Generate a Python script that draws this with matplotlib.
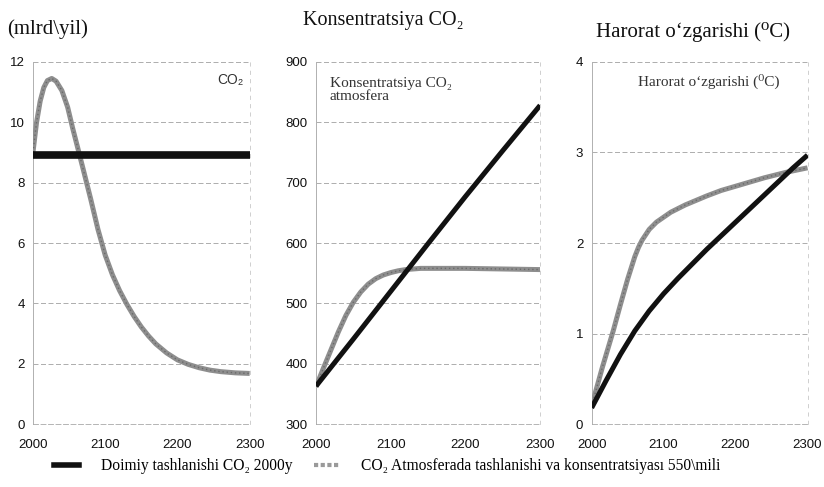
import matplotlib
matplotlib.use("Agg")
import matplotlib.pyplot as plt
from matplotlib.lines import Line2D

SERIF = ['Liberation Serif', 'DejaVu Serif']
SANS = ['Liberation Sans', 'DejaVu Sans']

# ---- Data ----
years_const1 = [2000, 2300]
emis_const = [8.9, 8.9]
years1 = [2000, 2005, 2010, 2015, 2020, 2026, 2032, 2040, 2048, 2055, 2062, 2070, 2080,
          2090, 2100, 2110, 2120, 2130, 2140, 2150, 2160, 2170, 2185, 2200, 2215, 2230,
          2245, 2260, 2280, 2300]
emis_550 = [9.0, 10.0, 10.7, 11.15, 11.38, 11.45, 11.36, 11.05, 10.5, 9.8, 9.15, 8.4, 7.45,
            6.45, 5.6, 4.95, 4.42, 3.97, 3.57, 3.22, 2.92, 2.66, 2.36, 2.13, 1.98, 1.87,
            1.79, 1.74, 1.70, 1.68]

years2 = [2000, 2050, 2100, 2150, 2200, 2250, 2300]
conc_const = [363, 441, 520, 599, 677, 753, 828]
years2b = [2000, 2010, 2020, 2030, 2040, 2050, 2060, 2070, 2080, 2090, 2100, 2110,
           2120, 2140, 2200, 2250, 2300]
conc_550 = [362, 393, 423, 453, 480, 502, 519, 532, 541, 547, 551, 554, 556, 558, 558, 557, 556]

years3 = [2000, 2020, 2040, 2060, 2080, 2100, 2120, 2140, 2160, 2180, 2200, 2220,
          2240, 2260, 2280, 2300]
temp_const = [0.18, 0.48, 0.77, 1.03, 1.25, 1.44, 1.61, 1.77, 1.93, 2.08, 2.23, 2.38,
              2.53, 2.68, 2.83, 2.97]
years3b = [2000, 2015, 2030, 2040, 2050, 2060, 2065, 2070, 2075, 2080, 2090, 2110,
           2130, 2160, 2180, 2210, 2240, 2270, 2300]
temp_550 = [0.2, 0.63, 1.03, 1.32, 1.6, 1.85, 1.95, 2.03, 2.09, 2.15, 2.23, 2.34,
            2.42, 2.52, 2.58, 2.65, 2.72, 2.78, 2.83]

xticks = [2000, 2100, 2200, 2300]
legend_labels = ["Doimiy tashlanishi CO\u2082 2000y",
                 "CO\u2082 Atmosferada tashlanishi va konsentratsiyası 550\\mili"]

BLACK = '#111111'
GRAY = '#8e8e8e'

fig = plt.figure(figsize=(8.24, 4.87), dpi=100)
fig.patch.set_facecolor('white')

def style(ax, ylim, yticks):
    ax.set_xlim(2000, 2300)
    ax.set_ylim(*ylim)
    ax.set_xticks(xticks)
    ax.set_yticks(yticks)
    for t in ax.get_xticklabels() + ax.get_yticklabels():
        t.set_fontfamily(SANS)
        t.set_fontsize(9.5)
        t.set_color('#111111')
    ax.tick_params(axis='both', length=0, pad=6)
    ax.tick_params(axis='x', pad=11)
    for yv in yticks[1:]:
        ax.axhline(yv, color='#a0a0a0', lw=0.6, ls=(0, (6, 3)), zorder=1)
    ax.spines['top'].set_visible(False)
    ax.spines['left'].set_color('#b0b0b0')
    ax.spines['left'].set_linewidth(0.7)
    ax.spines['right'].set_color('#c8c8c8')
    ax.spines['right'].set_linewidth(0.6)
    ax.spines['right'].set_linestyle((0, (4, 6)))
    ax.spines['bottom'].set_color('#a8a8a8')
    ax.spines['bottom'].set_linewidth(0.6)
    ax.spines['bottom'].set_linestyle((0, (6, 3)))

def gray_line(ax, x, y):
    ax.plot(x, y, color=GRAY, lw=3.6, zorder=3, solid_capstyle='butt',
            solid_joinstyle='round')
    ax.plot(x, y, color='#6a6a6a', lw=1.0, ls=(0, (1, 2)), zorder=4)

def black_line(ax, x, y, lw=3.6):
    ax.plot(x, y, color=BLACK, lw=lw, zorder=5, solid_capstyle='butt',
            solid_joinstyle='round')

# Panel 1
ax1 = fig.add_axes([0.040, 0.129, 0.263, 0.744])
style(ax1, (0, 12), [0, 2, 4, 6, 8, 10, 12])
gray_line(ax1, years1, emis_550)
black_line(ax1, years_const1, emis_const, lw=5.5)
ax1.text(0.85, 0.95, "CO\u2082", transform=ax1.transAxes, fontsize=10,
         family=SANS, ha='left', va='center', color='#333333')

# Panel 2
ax2 = fig.add_axes([0.3835, 0.129, 0.272, 0.744])
style(ax2, (300, 900), [300, 400, 500, 600, 700, 800, 900])
gray_line(ax2, years2b, conc_550)
black_line(ax2, years2, conc_const)
ax2.text(0.062, 0.922, "Konsentratsiya CO\u2082\natmosfera", transform=ax2.transAxes,
         fontsize=11, family=SERIF, ha='left', va='center', color='#333333',
         linespacing=1.05)

# Panel 3
ax3 = fig.add_axes([0.718, 0.129, 0.262, 0.744])
style(ax3, (0, 4), [0, 1, 2, 3, 4])
gray_line(ax3, years3b, temp_550)
black_line(ax3, years3, temp_const)
ax3.text(0.215, 0.945, "Harorat o\u2018zgarishi (\u2070C)", transform=ax3.transAxes,
         fontsize=11, family=SERIF, ha='left', va='center', color='#333333')

# Titles
fig.text(7 / 824, 1 - 29 / 487, "(mlrd\\yil)", fontsize=15, family=SERIF,
         ha='left', va='center', color='#111111')
fig.text(383 / 824, 1 - 20 / 487, "Konsentratsiya CO\u2082", fontsize=14.5, family=SERIF,
         ha='center', va='center', color='#111111')
fig.text(790 / 824, 1 - 32 / 487, "Harorat o\u2018zgarishi (\u2070C)", fontsize=15,
         family=SERIF, ha='right', va='center', color='#111111')

# Legend
h1 = Line2D([], [], color=BLACK, lw=4)
h2 = Line2D([], [], color='#9a9a9a', lw=3, ls=(0, (1, 0.6)))
leg = fig.legend([h1, h2], legend_labels, loc='center', ncol=2,
                 bbox_to_anchor=(0.47, 1 - 466 / 487), frameon=False,
                 prop={'family': SERIF, 'size': 11.2}, handlelength=1.6,
                 columnspacing=1.4, handletextpad=1.4)

fig.savefig("out.png", dpi=100, facecolor='white')
